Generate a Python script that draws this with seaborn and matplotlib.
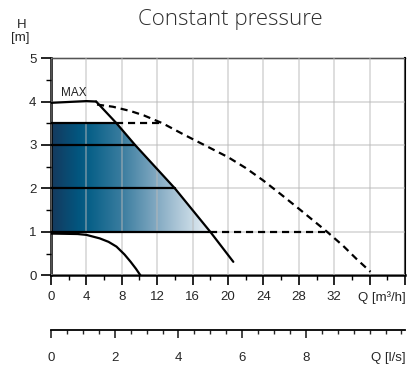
import numpy as np
import matplotlib
matplotlib.use("Agg")
import matplotlib.pyplot as plt
from matplotlib.colors import LinearSegmentedColormap
from matplotlib.patches import Polygon
from matplotlib.ticker import MultipleLocator
import seaborn as sns

# ==============================
# Datos (Q en m3/h, H en m)
# ==============================
q_max_top = [0, 2, 4, 5.1]
h_max_top = [3.97, 3.99, 4.01, 4.0]

q_max_drop = [5.1, 7.4, 9.5, 14.0, 18.0, 20.6]
h_max_drop = [4.0, 3.5, 3.0, 2.0, 1.0, 0.31]

q_dash = [5.2, 7, 9, 10.5, 12.6, 15, 17.6, 20, 22, 24, 26, 28.2, 30, 31.2, 33, 34.5, 36.1]
h_dash = [3.93, 3.88, 3.78, 3.68, 3.5, 3.24, 2.97, 2.72, 2.47, 2.18, 1.86, 1.5, 1.2,
          1.0, 0.68, 0.38, 0.08]

q_min = [0, 3, 4, 5.5, 6.5, 7.4, 8.3, 9.0, 9.6, 10.1]
h_min = [0.96, 0.95, 0.93, 0.85, 0.77, 0.66, 0.48, 0.31, 0.15, 0.0]

# lineas de presion constante (nivel, q final solido, q final discontinuo)
levels = [3.5, 3.0, 2.0, 1.0]
level_end = [7.4, 9.5, 14.0, 18.0]
dash_levels = [3.5, 1.0]
dash_start = [7.4, 18.0]
dash_end = [12.6, 31.2]

xticks_m3h = [0, 4, 8, 12, 16, 20, 24, 28, 32, 36, 40]
xlabels_m3h = ["0", "4", "8", "12", "16", "20", "24", "28", "32", "", ""]
xticks_ls = [0, 2, 4, 6, 8]

# ==============================
# Figura
# ==============================
sns.set_style("white")
plt.rcParams["font.family"] = ["Liberation Sans", "DejaVu Sans"]

fig = plt.figure(figsize=(4.2, 3.7), dpi=100)
ax = fig.add_axes([0.1214, 0.256, 0.8429, 0.587])

ax.set_xlim(0, 40)
ax.set_ylim(0, 5)

# degradado azul
cmap = LinearSegmentedColormap.from_list(
    "azul",
    [(0.0, "#15395d"), (0.17, "#02567f"), (0.25, "#0a6189"), (0.45, "#3c7ea0"),
     (0.67, "#85abc3"), (0.89, "#cadbe6"), (1.0, "#eef3f7")],
)
grad = np.linspace(0, 1, 256).reshape(1, -1)
img = ax.imshow(grad, cmap=cmap, extent=[0, level_end[-1], levels[-1], levels[0]],
                aspect="auto", origin="lower", zorder=1)
poly_pts = [(0, levels[-1]), (level_end[-1], levels[-1])] + \
    [(q, h) for q, h in zip(q_max_drop[::-1], h_max_drop[::-1]) if levels[-1] < h <= levels[0]] + \
    [(0, levels[0])]
clip = Polygon(poly_pts, closed=True, transform=ax.transData, facecolor="none", edgecolor="none")
ax.add_patch(clip)
img.set_clip_path(clip)

# rejilla
ax.xaxis.set_major_locator(MultipleLocator(4))
ax.xaxis.set_minor_locator(MultipleLocator(2))
ax.yaxis.set_major_locator(MultipleLocator(1))
ax.yaxis.set_minor_locator(MultipleLocator(0.5))
ax.grid(True, which="major", color="#b8b8b8", alpha=0.6, lw=1.1, zorder=2)
ax.set_axisbelow(False)

lw = 1.6
sns.lineplot(x=q_max_top, y=h_max_top, ax=ax, color="black", lw=lw, zorder=5)
sns.lineplot(x=q_max_drop, y=h_max_drop, ax=ax, color="black", lw=lw, zorder=5)
sns.lineplot(x=q_min, y=h_min, ax=ax, color="black", lw=lw, zorder=5)
for lev, end in zip(levels, level_end):
    sns.lineplot(x=[0, end], y=[lev, lev], ax=ax, color="black", lw=lw, zorder=5)

dash_style = (0, (3.2, 2.2))
sns.lineplot(x=q_dash, y=h_dash, ax=ax, color="black", lw=lw, linestyle=dash_style, zorder=5)
for lev, s, e in zip(dash_levels, dash_start, dash_end):
    sns.lineplot(x=[s, e], y=[lev, lev], ax=ax, color="black", lw=lw, linestyle=dash_style, zorder=5)

ax.text(1.1, 4.12, "MAX", fontsize=8.5, color="#222222", zorder=6)

# ejes
ax.set_xticks(xticks_m3h)
ax.set_xticklabels(xlabels_m3h)
ax.tick_params(axis="both", which="major", direction="out", length=7.5, width=1.2,
               labelsize=9.5, color="black", bottom=True, left=True)
ax.tick_params(axis="x", which="major", pad=4)
ax.tick_params(axis="y", which="major", pad=3)
ax.tick_params(axis="both", which="minor", direction="out", length=3.6, width=1.0,
               color="black", bottom=True, left=True)
ax.set_xlabel("")
ax.set_ylabel("")
for side, w in [("left", 1.8), ("bottom", 1.8), ("right", 1.5), ("top", 1.0)]:
    ax.spines[side].set_visible(True)
    ax.spines[side].set_color("black")
    ax.spines[side].set_linewidth(w)

fig.text(0.966, 1 - 298 / 370, "Q [m³/h]", ha="right", va="center", fontsize=9.5)

# eje secundario en l/s
ax2 = fig.add_axes([0.1214, 0.108, 0.8429, 0.0001])
ax2.set_xlim(0, 40 / 3.6)
ax2.set_yticks([])
for side in ["left", "right", "top"]:
    ax2.spines[side].set_visible(False)
ax2.spines["bottom"].set_color("black")
ax2.spines["bottom"].set_linewidth(1.3)
ax2.set_xticks(xticks_ls)
ax2.xaxis.set_minor_locator(MultipleLocator(0.5))
ax2.tick_params(axis="x", which="major", direction="out", length=6, width=1.2,
                labelsize=9.5, pad=10, bottom=True)
ax2.tick_params(axis="x", which="minor", direction="out", length=3.2, width=1.0, bottom=True)
fig.text(0.966, 1 - 358 / 370, "Q [l/s]", ha="right", va="center", fontsize=9.5)

# titulo y etiqueta H
fig.text(0.548, 1 - 20 / 370, "Constant pressure", ha="center", va="center", fontsize=16,
         color="#2e2e2e", family=["Open Sans", "DejaVu Sans"], fontweight="light")
fig.text(22 / 420, 1 - 25 / 370, "H", ha="center", va="center", fontsize=9.5)
fig.text(20 / 420, 1 - 38 / 370, "[m]", ha="center", va="center", fontsize=9.5)

fig.savefig("out.png", dpi=100)
